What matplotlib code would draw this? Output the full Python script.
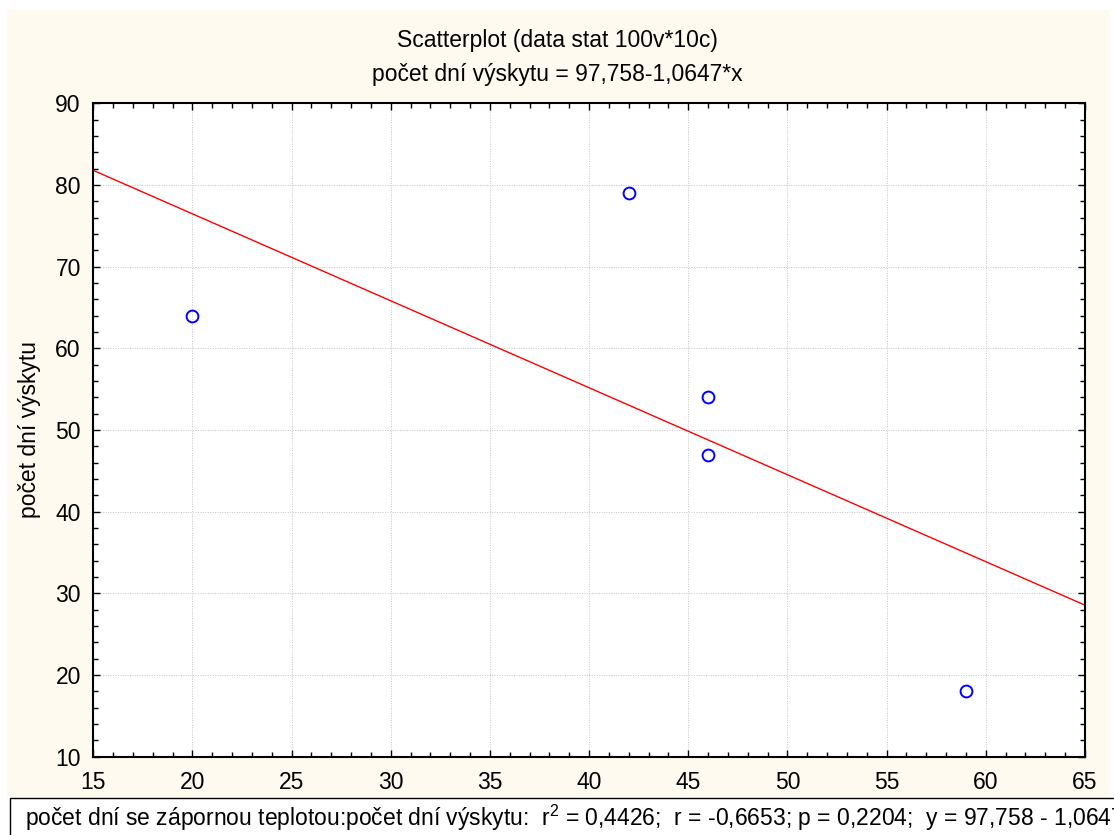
import matplotlib
matplotlib.use("Agg")
import matplotlib.pyplot as plt
from matplotlib.patches import Rectangle
from matplotlib.ticker import MultipleLocator
import numpy as np

x_vals = [20, 42, 46, 46, 59]
y_vals = [64, 79, 54, 47, 18]
intercept = 97.758
slope = -1.0647

title_1 = "Scatterplot (data stat 100v*10c)"
title_2 = "počet dní výskytu = 97,758-1,0647*x"
y_label = "počet dní výskytu"
footer = ("počet dní se zápornou teplotou:počet dní výskytu:  r$^2$ = 0,4426;  "
          "r = -0,6653; p = 0,2204;  y = 97,758 - 1,0647*x")

plt.rcParams["font.family"] = ["Liberation Sans", "DejaVu Sans"]
plt.rcParams["mathtext.fontset"] = "custom"
plt.rcParams["mathtext.rm"] = "Liberation Sans"

W, H = 1114, 835
fig = plt.figure(figsize=(W / 100, H / 100), dpi=100)
fig.patch.set_facecolor("white")

# cream panel behind the plot
fig.patches.append(Rectangle((7 / W, (H - 797) / H), (1110 - 7) / W, (797 - 10) / H,
                             transform=fig.transFigure, facecolor="#fffaf0",
                             edgecolor="none", zorder=-2))
# footer box
fig.patches.append(Rectangle((10 / W, -0.05), 1.2, (H - 798) / H + 0.05,
                             transform=fig.transFigure, facecolor="white",
                             edgecolor="black", linewidth=1.0, zorder=-1))

left, right, top, bottom = 93.3, 1085, 103.3, 756.7
ax = fig.add_axes([left / W, 1 - bottom / H, (right - left) / W, (bottom - top) / H])
ax.set_facecolor("white")

xs = np.array([15, 65])
ax.plot(xs, intercept + slope * xs, color="red", lw=1.0, zorder=2)
ax.plot(x_vals, y_vals, linestyle="none", marker="o", markersize=8.5,
        markerfacecolor="none", markeredgecolor="blue", markeredgewidth=1.4, zorder=3)

ax.set_xlim(15, 65)
ax.set_ylim(10, 90)
ax.xaxis.set_major_locator(MultipleLocator(5))
ax.xaxis.set_minor_locator(MultipleLocator(1))
ax.yaxis.set_major_locator(MultipleLocator(10))
ax.yaxis.set_minor_locator(MultipleLocator(2))
ax.tick_params(which="both", direction="in", top=True, right=True, labelsize=16.5, width=1.0)
ax.tick_params(which="major", length=5)
ax.tick_params(which="minor", length=3.5)
ax.tick_params(axis="x", which="major", pad=10)
ax.tick_params(axis="y", which="major", pad=9)
ax.grid(True, which="major", color="#c4c4c4", linestyle=(0, (1, 1.5)), linewidth=0.7)
for s in ax.spines.values():
    s.set_linewidth(1.5)
ax.set_ylabel(y_label, fontsize=16.5, labelpad=10)

fig.text(0.5, 1 - 40 / H, title_1, ha="center", va="center", fontsize=16.5)
fig.text(0.5, 1 - 75 / H, title_2, ha="center", va="center", fontsize=16.5)
fig.text(25 / W, 1 - 818 / H, footer, ha="left", va="center", fontsize=16.5)

fig.savefig("out.png", dpi=100)
